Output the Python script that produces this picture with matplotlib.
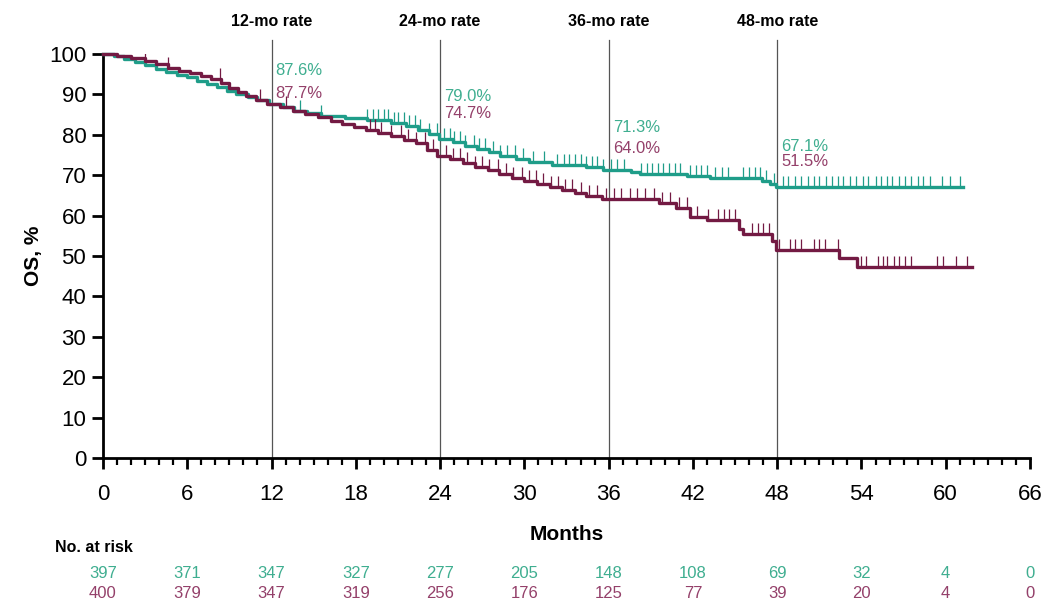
import numpy as np
import matplotlib
matplotlib.use("Agg")
from matplotlib import pyplot as plt
from matplotlib.ticker import MultipleLocator
from matplotlib.transforms import blended_transform_factory

plt.rcParams['font.family'] = ['Liberation Sans', 'DejaVu Sans']

teal = '#1f9d89'
maroon = '#731a43'
teal_txt = '#3fae90'
maroon_txt = '#94406a'

# Kaplan-Meier steps: time of drop (months) and OS % after it
teal_t = [0, 0.8, 1.5, 2.3, 3.0, 3.8, 4.5, 5.3, 6.0, 6.7, 7.4, 8.1, 8.8, 9.5, 10.3, 11.0,
          11.8, 12.8, 13.6, 14.5, 15.5, 17.2, 18.8, 20.5, 21.6, 22.4, 23.2, 23.9, 24.9,
          25.8, 26.6, 27.5, 28.3, 29.4, 30.3, 32.0, 34.4, 35.6, 37.6, 38.2, 41.6, 43.2,
          46.9, 47.5, 47.9]
teal_s = [100, 99.5, 98.8, 98.0, 97.2, 96.3, 95.5, 94.8, 94.2, 93.4, 92.6, 91.8, 90.9, 90.1,
          89.3, 88.7, 87.6, 86.8, 86.0, 85.3, 84.6, 84.2, 83.6, 82.9, 82.1, 81.3, 80.2, 79.0,
          78.2, 77.3, 76.6, 75.7, 74.8, 74.0, 73.2, 72.6, 72.0, 71.3, 70.8, 70.3, 69.8, 69.2,
          68.6, 67.9, 67.1]
teal_end = 61.2

maroon_t = [0, 1.0, 2.0, 3.0, 3.8, 4.6, 5.4, 6.2, 7.0, 7.7, 8.4, 9.0, 9.6, 10.2, 10.9, 11.7,
            12.6, 13.5, 14.4, 15.3, 16.2, 17.0, 17.9, 18.7, 19.6, 20.5, 21.4, 22.3, 23.1,
            23.8, 24.7, 25.6, 26.5, 27.4, 28.2, 29.1, 30.0, 30.9, 31.8, 32.7, 33.6, 34.4,
            35.5, 39.6, 40.8, 41.8, 43.0, 45.3, 45.6, 47.6, 47.9, 52.4, 53.7]
maroon_s = [100, 99.6, 98.9, 98.3, 97.5, 96.6, 95.9, 95.3, 94.5, 93.7, 92.8, 91.7, 90.6,
            89.6, 88.6, 87.7, 86.8, 85.9, 85.1, 84.3, 83.5, 82.7, 81.9, 81.1, 80.4, 79.6,
            78.8, 78.0, 76.3, 74.7, 73.9, 73.0, 72.1, 71.3, 70.4, 69.4, 68.6, 67.9, 67.0,
            66.3, 65.5, 64.8, 64.0, 63.0, 61.9, 59.6, 58.9, 56.8, 55.5, 53.8, 51.5, 49.6, 47.4]
maroon_end = 61.9

# censoring times
teal_cens = [14.0, 15.5, 18.8, 19.2, 19.6, 20.0, 20.3, 20.7, 21.0, 21.4, 21.8, 22.2, 22.6,
             23.2, 23.8, 24.3, 24.7, 25.0, 25.4, 25.8, 26.4, 26.8, 27.2, 27.8, 28.3, 28.8,
             29.3, 29.9, 30.6, 31.4, 32.3, 32.8, 33.2, 33.6, 34.0, 34.4, 34.8, 35.2, 35.6,
             36.2, 36.6, 37.1, 38.3, 38.7, 39.1, 39.5, 39.9, 40.3, 40.7, 41.1, 41.8, 42.2,
             42.6, 43.0, 43.6, 44.1, 44.5, 45.6, 46.0, 46.4, 46.8, 47.2, 47.8, 48.4, 48.8,
             49.3, 49.7, 50.2, 50.6, 51.0, 51.5, 51.9, 52.3, 52.7, 53.2, 53.6, 54.1, 54.5,
             55.0, 55.4, 55.8, 56.2, 56.7, 57.1, 57.5, 58.0, 58.4, 58.9, 59.7, 60.3, 61.0]
maroon_cens = [3.0, 4.6, 8.3, 11.2, 13.0, 19.0, 19.4, 19.8, 20.5, 21.2, 21.7, 22.3, 22.9,
               23.5, 24.4, 24.9, 25.4, 25.9, 26.5, 27.0, 27.5, 28.1, 28.7, 29.2, 29.8, 30.3,
               30.8, 31.3, 31.9, 32.4, 32.9, 33.4, 34.0, 34.6, 35.2, 35.8, 36.4, 36.9, 37.5,
               38.0, 38.6, 39.2, 39.8, 40.4, 41.0, 41.6, 42.3, 43.1, 43.8, 44.2, 44.6, 45.0,
               46.2, 46.6, 47.0, 47.4, 48.1, 48.9, 49.3, 49.7, 50.6, 51.0, 51.4, 52.3, 54.0,
               54.3, 55.2, 55.5, 55.8, 56.3, 56.7, 57.1, 57.5, 59.4, 59.8, 60.7, 61.5]

landmarks = [12, 24, 36, 48]
teal_rates = [87.6, 79.0, 71.3, 67.1]
maroon_rates = [87.7, 74.7, 64.0, 51.5]

risk_months = np.arange(0, 67, 6)
teal_risk = [397, 371, 347, 327, 277, 205, 148, 108, 69, 32, 4, 0]
maroon_risk = [400, 379, 347, 319, 256, 176, 125, 77, 39, 20, 4, 0]


def surv_at(t, times, surv):
    i = np.searchsorted(times, t, side='right') - 1
    return np.array(surv)[i]


fig = plt.figure(figsize=(10.42, 6.03), dpi=100)
ax = fig.add_axes([0.0988, 0.2405, 0.8897, 0.6699])

tick_up = [(0, 0), (0, 1)]
for t, s, end, cens, c in [(teal_t, teal_s, teal_end, teal_cens, teal),
                           (maroon_t, maroon_s, maroon_end, maroon_cens, maroon)]:
    ax.step(t + [end], s + [s[-1]], where='post', color=c, lw=2.4, clip_on=False, zorder=3)
    ax.plot(cens, surv_at(cens, t, s), ls='none', marker=tick_up, ms=16, mew=0.9,
            color=c, zorder=3)

# landmark lines with rate labels
teal_lab_y = [96.0, 89.4, 81.7, 77.0]
maroon_lab_y = [90.3, 85.4, 76.7, 73.3]
for m, tr, mr, ty, my in zip(landmarks, teal_rates, maroon_rates, teal_lab_y, maroon_lab_y):
    ax.plot([m, m], [0, 103.5], color='#555555', lw=0.9, clip_on=False, zorder=2)
    ax.text(m, 108, f'{m}-mo rate', ha='center', va='center', fontsize=11.5,
            fontweight='bold', clip_on=False)
    ax.text(m + 0.3, ty, f'{tr:.1f}%', color=teal_txt, fontsize=12, va='center', ha='left')
    ax.text(m + 0.3, my, f'{mr:.1f}%', color=maroon_txt, fontsize=12, va='center', ha='left')

ax.set_xlim(0, 66)
ax.set_ylim(0, 100)
ax.spines['top'].set_visible(False)
ax.spines['right'].set_visible(False)
ax.spines['left'].set_linewidth(2)
ax.spines['bottom'].set_linewidth(2)
ax.xaxis.set_major_locator(MultipleLocator(6))
ax.xaxis.set_minor_locator(MultipleLocator(1))
ax.yaxis.set_major_locator(MultipleLocator(10))
ax.tick_params(axis='both', which='major', direction='out', length=8, width=2,
               labelsize=16, pad=4)
ax.tick_params(axis='x', which='major', pad=11)
ax.tick_params(axis='x', which='minor', direction='out', length=5, width=1.6)
ax.set_ylabel('OS, %', fontsize=15, fontweight='bold', labelpad=4)
ax.set_xlabel('Months', fontsize=15, fontweight='bold', labelpad=14)

# number at risk table below the axis
tr_blend = blended_transform_factory(ax.transData, fig.transFigure)
fig.text(55 / 1042, 1 - 548 / 603, 'No. at risk', fontsize=11.5, fontweight='bold',
         va='center', ha='left')
for m, a, b in zip(risk_months, teal_risk, maroon_risk):
    ax.text(m, 1 - 573 / 603, str(a), transform=tr_blend, color=teal_txt, fontsize=12,
            ha='center', va='center', clip_on=False)
    ax.text(m, 1 - 593 / 603, str(b), transform=tr_blend, color=maroon_txt, fontsize=12,
            ha='center', va='center', clip_on=False)

fig.savefig('out.png', dpi=100)
